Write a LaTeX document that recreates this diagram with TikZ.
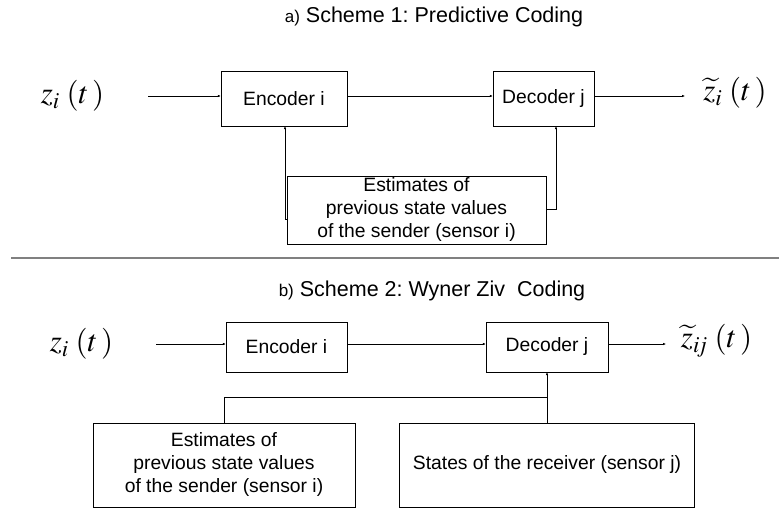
\documentclass[tikz,border=0pt]{standalone}
\usepackage{mathptmx}
\usepackage{fontspec}
\setmainfont{Liberation Sans}
\usetikzlibrary{arrows.meta}
\frenchspacing
\tikzset{blk/.style={draw, thin, inner sep=0pt, align=center, font=\fontsize{19.3}{23}\selectfont},
  arr/.style={-{Latex[length=3pt,width=2.5pt]}, line width=0.5pt},
  sig/.style={inner sep=0pt, font=\fontsize{31}{31}\selectfont},
  ttl/.style={font=\fontsize{21.5}{22}\selectfont}}
\newcommand{\lbl}[1]{{\fontsize{17}{17}\selectfont #1}}

\begin{document}
\begin{tikzpicture}[x=1pt, y=-1pt]
    \useasboundingbox (0,0) rectangle (779,508);
    % a) predictive coding
    \node [ttl] (ta) at (434,17) {\lbl{a)} Scheme 1: Predictive Coding};
    \node [sig] (za) at (72.5,96) {$z_i\;(t\,)$};
    \node [sig] (zta) at (735,93) {$\widetilde{z}_i\;(t\,)$};
    \node [blk, minimum width=126pt, minimum height=55pt] (enca) at (284,98.5) {Encoder i};
    \node [blk, minimum width=101pt, minimum height=55pt] (deca) at (543.5,98.5) {Decoder j};
    \node [blk, minimum width=259pt, minimum height=68pt] (esta) at (416.5,210)
      {Estimates of\\previous state values\\of the sender (sensor i)};
    \coordinate (ina) at (148,96);
    \coordinate (outa) at (685,96);
    \draw [arr] (ina) -- (ina -| enca.west);
    \draw [arr] (enca.east |- ina) -- (deca.west |- ina);
    \draw [arr] (deca.east |- ina) -- (outa);
    \draw [arr] ([yshift=-9pt]esta.west) -| ([xshift=1pt]enca.south);
    \draw [arr] ([yshift=1pt]esta.east) -| ([xshift=12.5pt]deca.south);
    % separator
    \draw [line width=1.5pt, gray] (11,258) -- (779,258);
    % b) Wyner Ziv coding
    \node [ttl] (tb) at (432,291) {\lbl{b)} Scheme 2: Wyner Ziv\ \ Coding};
    \node [sig] (zb) at (81.5,344) {$z_i\;(t\,)$};
    \node [sig] (ztb) at (716.5,341) {$\widetilde{z}_{i\!j}\;(t\,)$};
    \node [blk, minimum width=121pt, minimum height=50pt] (encb) at (286.5,347) {Encoder i};
    \node [blk, minimum width=122pt, minimum height=50pt] (decb) at (547,347) {Decoder j};
    \node [blk, minimum width=262pt, minimum height=84pt] (estb) at (224,465)
      {Estimates of\\previous state values\\of the sender (sensor i)};
    \node [blk, minimum width=295pt, minimum height=84pt] (stb) at (547,465) {States of the receiver (sensor j)};
    \coordinate (inb) at (156,344);
    \coordinate (outb) at (666,344);
    \coordinate (jn) at (547,397);
    \draw [arr] (inb) -- (inb -| encb.west);
    \draw [arr] (encb.east |- inb) -- (decb.west |- inb);
    \draw [arr] (decb.east |- inb) -- (outb);
    \draw (estb.north) |- (jn);
    \draw [arr] (stb.north) -- (decb.south);
\end{tikzpicture}
\end{document}
